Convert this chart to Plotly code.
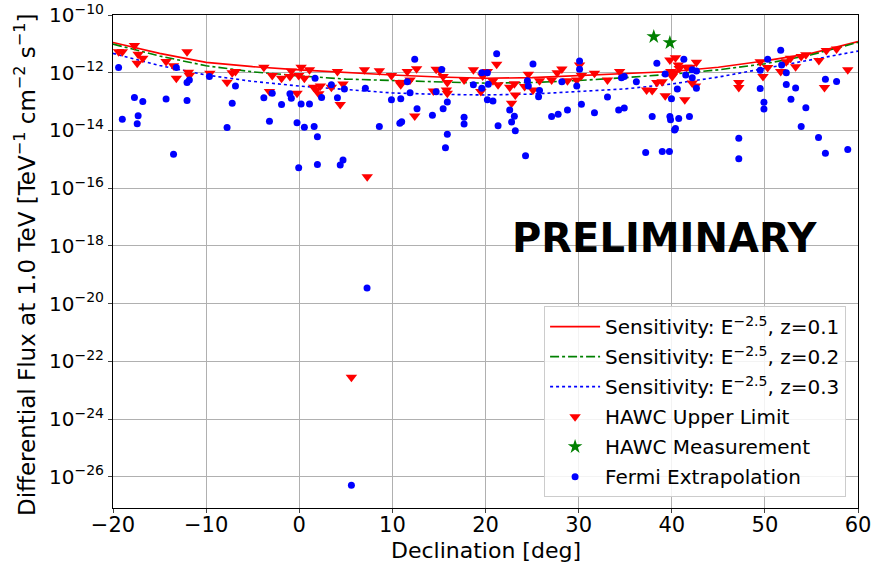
import plotly.graph_objects as go

# Sensitivity curves (declination, log10 flux)
sens_dec = [-20, -15, -10, -5, 0, 5, 10, 15, 20, 25, 30, 35, 40, 45, 50, 55, 60]
sens_z01 = [-10.95, -11.33, -11.64, -11.79, -11.90, -12.00, -12.08, -12.15, -12.19, -12.17, -12.10, -12.03, -11.96, -11.81, -11.59, -11.33, -10.92]
sens_z02 = [-11.01, -11.42, -11.76, -11.97, -12.11, -12.22, -12.27, -12.32, -12.36, -12.34, -12.27, -12.17, -12.05, -11.90, -11.69, -11.38, -10.95]
sens_z03 = [-11.33, -11.75, -12.08, -12.30, -12.46, -12.58, -12.70, -12.75, -12.77, -12.74, -12.65, -12.56, -12.39, -12.15, -11.85, -11.55, -11.25]

# HAWC upper limits
ul_dec = [-19.4, -19.0, -17.7, -17.3, -17.4, -16.8, -14.3, -13.5, -13.2, -12.05, -11.9, -11.8, -9.6, -7.75, -7.2, -6.85,
          -3.8, -3.2, -2.9, -1.9, -1.0, -0.85, -0.24, -0.06, 0.2, 0.55, 1.1, 1.55, 1.84, 2.1, 2.27, 3.45, 4.1, 4.4, 4.7,
          7.0, 7.3, 5.6,
          8.6, 9.9, 10.8, 10.9, 11.6, 11.9, 12.6, 12.4, 14.4, 14.7, 15.1, 15.45, 15.9, 15.8, 15.9, 17.7, 18.7, 19.5, 19.7,
          20.2, 20.8, 21.2, 21.35, 22.6, 22.8, 23.1, 23.2, 24.2, 24.6, 25.1, 25.8, 27.1, 27.7, 28.2, 28.8, 29.8, 30.1,
          30.3, 31.7, 33.1, 34.4,
          37.3, 37.9, 38.4, 38.97, 39.3, 39.8, 40.4, 39.9, 40.05, 40.3, 40.7, 40.8, 41.4, 41.6, 42.0, 42.2, 42.65, 42.55,
          47.2, 47.2, 49.5, 49.8, 50.3, 51.7, 52.3, 52.75, 53.3, 53.9, 54.4, 55.8, 56.4, 56.6, 57.7, 58.9]
ul_log = [-11.27, -11.27, -11.06, -11.36, -11.67, -11.50, -11.61, -11.76, -12.19, -11.27, -11.98, -12.10, -12.02, -12.33, -12.00, -11.96,
          -11.81, -12.65, -12.10, -12.19, -12.13, -11.94, -12.71, -12.10, -11.81, -12.19, -11.90, -12.50, -12.59, -12.73, -12.46, -12.50, -11.96, -13.10, -12.39,
          -11.90, -15.60, -22.55,
          -11.93, -12.10, -12.34, -12.42, -11.96, -12.25, -11.86, -13.50, -12.63, -11.88, -11.93, -12.13, -12.34, -12.60, -12.71, -12.25, -11.90, -12.65, -12.11,
          -11.96, -12.28, -11.71, -12.42, -12.50, -13.06, -12.38, -12.77, -12.48, -12.05, -12.60, -12.28, -12.25, -12.00, -11.87, -12.28, -12.25, -11.73,
          -12.10, -12.02, -12.25, -11.96,
          -12.60, -12.62, -12.34, -12.31, -12.80, -11.56, -11.48, -11.96, -12.13, -12.00, -11.73, -11.85, -12.94, -11.81, -11.81, -12.36, -11.64, -12.46,
          -12.34, -12.51, -11.62, -12.13, -11.82, -11.96, -11.62, -11.50, -11.79, -11.44, -11.38, -11.58, -12.51, -11.23, -11.18, -11.90]

# HAWC measurements
meas_dec = [38.07, 39.8]
meas_log = [-10.75, -10.96]

# Fermi extrapolations
fe_dec = [-19.4, -19.0, -17.7, -17.4, -17.3, -16.8, -14.3, -13.5, -13.2, -12.05, -11.8, -12.05, -9.65, -7.75, -7.2, -6.85,
          -3.8, -3.2, -2.9, -1.9, -1.0, -0.85, -0.24, -0.06, 0.2, 0.55, 1.1, 1.6, 1.7, 1.95, 1.95, 2.4, 3.45, 4.1, 4.4, 4.7,
          4.85, 7.1, 7.28, 5.6,
          8.6, 9.9, 10.8, 11.0, 10.9, 11.6, 11.9, 12.4, 12.65, 14.3, 14.7, 15.3, 15.45, 15.9, 15.9, 15.7, 17.7, 17.7, 18.7,
          19.6, 19.6, 20.2, 20.3, 20.2, 20.8, 21.2, 21.35, 22.6, 22.8, 23.1, 23.2, 24.3, 24.5, 24.6, 25.1, 25.8, 25.7, 27.1,
          27.8, 28.8, 28.2, 29.8, 30.1, 30.1, 30.3, 31.7, 33.1, 34.3, 34.9, 34.6, 34.9,
          36.2, 37.9, 37.2, 38.4, 38.98, 39.3, 39.75, 39.8, 39.87, 39.97, 40.3, 40.4, 40.6, 40.75, 41.3, 41.5, 41.9, 42.2,
          42.2, 42.65, 42.65, 47.2, 47.2, 49.5, 49.5, 49.9, 49.9, 50.3, 51.7, 51.8, 52.3, 52.3, 52.8, 53.3, 53.9, 54.4,
          55.76, 56.5, 56.5, 57.7, 58.9]
fe_log = [-11.82, -13.61, -12.86, -13.77, -13.49, -13.00, -12.91, -14.82, -11.82, -12.34, -12.25, -12.96, -12.13, -13.90, -13.06, -12.46,
          -12.87, -13.68, -12.71, -13.10, -12.73, -12.88, -13.73, -15.29, -13.08, -13.89, -13.08, -13.86, -12.19, -14.22, -15.18, -12.86, -12.42, -12.87, -15.20, -15.02,
          -12.56, -12.54, -19.46, -26.29,
          -13.86, -12.94, -13.75, -13.70, -12.90, -12.31, -12.69, -11.53, -13.25, -13.47, -12.66, -11.89, -13.25, -13.01, -14.13, -14.60, -13.54, -13.78, -12.42,
          -12.00, -12.54, -12.00, -12.40, -12.94, -12.98, -11.34, -13.84, -13.29, -13.71, -13.51, -14.01, -14.88, -12.28, -12.46, -11.70, -12.62, -12.83, -13.52,
          -13.44, -13.29, -12.31, -12.46, -11.59, -11.88, -13.09, -13.39, -12.84, -13.29, -13.22, -12.17, -12.13,
          -12.31, -13.52, -14.76, -11.67, -14.73, -12.04, -14.73, -13.52, -13.63, -12.90, -13.98, -13.93, -12.56, -13.59, -11.53, -12.08, -13.52, -11.90,
          -12.17, -11.94, -12.54, -14.27, -14.98, -11.91, -12.55, -13.02, -13.26, -11.53, -11.22, -11.73, -12.00, -12.41, -12.92, -12.53, -13.86, -13.21,
          -14.24, -12.23, -14.79, -12.30, -14.66]

ytick_exp = [-10, -12, -14, -16, -18, -20, -22, -24, -26]


def flux(logs):
    return [10 ** v for v in logs]


FONT = "DejaVu Sans"
fig = go.Figure()
fig.add_trace(go.Scatter(x=sens_dec, y=flux(sens_z01), mode="lines", line=dict(color="#ff0000", width=1.6),
                         name="Sensitivity: E<sup>−2.5</sup>, z=0.1", legendgroup="a"))
fig.add_trace(go.Scatter(x=sens_dec, y=flux(sens_z02), mode="lines", line=dict(color="#008000", width=1.6, dash="dashdot"),
                         name="Sensitivity: E<sup>−2.5</sup>, z=0.2", legendgroup="b"))
fig.add_trace(go.Scatter(x=sens_dec, y=flux(sens_z03), mode="lines", line=dict(color="#0000ff", width=1.6, dash="dot"),
                         name="Sensitivity: E<sup>−2.5</sup>, z=0.3", legendgroup="c"))
fig.add_trace(go.Scatter(x=ul_dec, y=flux(ul_log), mode="markers",
                         marker=dict(symbol="triangle-down", color="#ff0000", size=10, line=dict(width=0)),
                         name="HAWC Upper Limit", legendgroup="d"))
fig.add_trace(go.Scatter(x=meas_dec, y=flux(meas_log), mode="markers",
                         marker=dict(symbol="star", color="#008000", size=11, line=dict(width=0)),
                         name="HAWC Measurement", legendgroup="e"))
fig.add_trace(go.Scatter(x=fe_dec, y=flux(fe_log), mode="markers",
                         marker=dict(symbol="circle", color="#0000ff", size=7, line=dict(width=0)),
                         name="Fermi Extrapolation", legendgroup="f"))

fig.add_annotation(x=39.3, y=-17.72, xref="x", yref="y", text="<b>PRELIMINARY</b>", showarrow=False,
                   font=dict(family=FONT, size=40, color="black"))
# axis titles
fig.add_annotation(x=-0.118, y=0.493, xref="paper", yref="paper", textangle=-90, showarrow=False,
                   xanchor="center", yanchor="middle",
                   text="Differential Flux at 1.0 TeV [TeV<sup>−1</sup> cm<sup>−2</sup> s<sup>−1</sup>]",
                   font=dict(family=FONT, size=23, color="black"))
fig.add_annotation(x=0.5, y=-0.0872, xref="paper", yref="paper", showarrow=False,
                   xanchor="center", yanchor="middle", text="Declination [deg]",
                   font=dict(family=FONT, size=22, color="black"))

fig.update_layout(
    width=874, height=569,
    margin=dict(l=113, r=16, t=15, b=61),
    paper_bgcolor="white", plot_bgcolor="white",
    font=dict(family=FONT, size=20, color="black"),
    showlegend=True,
    legend=dict(x=0.984, y=0.022, xanchor="right", yanchor="bottom",
                bgcolor="rgba(255,255,255,0.85)", bordercolor="#cccccc", borderwidth=1,
                font=dict(family=FONT, size=20), tracegroupgap=1, itemwidth=50),
)
fig.update_xaxes(range=[-20, 60], dtick=10, tick0=0, showgrid=True, gridcolor="#b0b0b0", gridwidth=1,
                 showline=True, linecolor="black", linewidth=1, mirror=True, ticks="outside", ticklen=4,
                 zeroline=False, automargin=False, tickfont=dict(size=21), ticklabelstandoff=-6)
fig.update_yaxes(type="log", range=[-27.08, -10], tickvals=[10 ** e for e in ytick_exp],
                 ticktext=["10<sup>−%d</sup>" % (-e) for e in ytick_exp],
                 showgrid=True, gridcolor="#b0b0b0", gridwidth=1,
                 showline=True, linecolor="black", linewidth=1, mirror=True, ticks="outside", ticklen=4,
                 zeroline=False, automargin=False, tickfont=dict(size=20))

fig.write_html("out.html", config={"displayModeBar": False},
               post_script="document.body.style.margin='0';document.body.style.overflow='hidden';")
